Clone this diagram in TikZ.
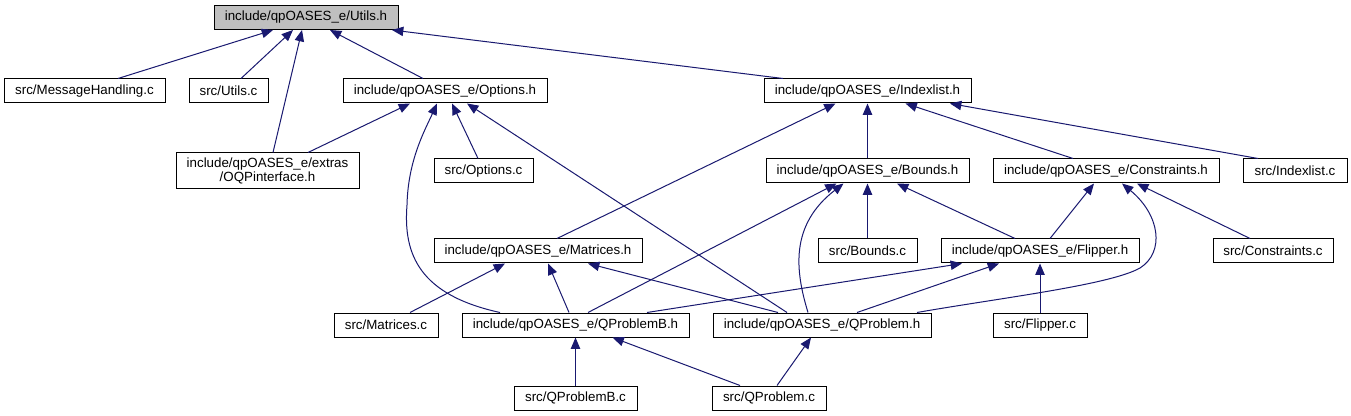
\documentclass[tikz,border=0pt]{standalone}
\usepackage{fontspec}
\setmainfont{Liberation Sans}
\usetikzlibrary{arrows.meta,calc}
\definecolor{edgeblue}{HTML}{191970}
\definecolor{hdrgray}{HTML}{BFBFBF}
\tikzset{
  nd/.style={draw=black, line width=0.75pt, fill=white, rectangle, inner sep=0pt,
    minimum height=18pt, font=\fontsize{10}{10.5}\selectfont, align=center},
  bw/.style={minimum width=#1*0.75pt},
  bh/.style={minimum height=#1*0.75pt},
  dep/.style={draw=edgeblue, line width=0.75pt,
    -{Triangle[length=8.5pt,width=7pt]}, fill=none}
}
\begin{document}
\begin{tikzpicture}[x=0.75pt,y=-0.75pt]
\useasboundingbox[fill=white] (0,0) rectangle (1351,416);
% row 1
\node[nd, bw=184, fill=hdrgray] (utils) at (306,17.5) {include/qpOASES\_e/Utils.h};
% row 2
\node[nd, bw=161] (msg) at (84.5,91) {src/MessageHandling.c};
\node[nd, bw=79] (utilsc) at (228.5,91) {src/Utils.c};
\node[nd, bw=204] (options) at (445,91) {include/qpOASES\_e/Options.h};
\node[nd, bw=207] (indexlist) at (867.5,91) {include/qpOASES\_e/Indexlist.h};
% row 3
\node[nd, bw=183, bh=36] (oqp) at (267.5,171) {include/qpOASES\_e/extras\\/OQPinterface.h};
\node[nd, bw=99] (optionsc) at (483.5,171) {src/Options.c};
\node[nd, bw=203] (bounds) at (867.5,171) {include/qpOASES\_e/Bounds.h};
\node[nd, bw=226] (constraints) at (1106,171) {include/qpOASES\_e/Constraints.h};
\node[nd, bw=104] (indexlistc) at (1295,171) {src/Indexlist.c};
% row 4
\node[nd, bw=208] (matrices) at (538,251) {include/qpOASES\_e/Matrices.h};
\node[nd, bw=99] (boundsc) at (867.5,251) {src/Bounds.c};
\node[nd, bw=198] (flipper) at (1040,251) {include/qpOASES\_e/Flipper.h};
\node[nd, bw=120] (constraintsc) at (1273,251) {src/Constraints.c};
% row 5
\node[nd, bw=104] (matricesc) at (386,325) {src/Matrices.c};
\node[nd, bw=227] (qproblemb) at (575.5,325) {include/qpOASES\_e/QProblemB.h};
\node[nd, bw=218] (qproblem) at (822,325) {include/qpOASES\_e/QProblem.h};
\node[nd, bw=94] (flipperc) at (1040,325) {src/Flipper.c};
% row 6
\node[nd, bw=123] (qproblembc) at (575.5,398) {src/QProblemB.c};
\node[nd, bw=114] (qproblemc) at (769,398) {src/QProblem.c};

% edges
\draw[dep] ($(msg.north)+(33.5,0)$) -- ($(utils.south)+(-33,0)$);
\draw[dep] ($(utilsc.north)+(12.5,0)$) -- ($(utils.south)+(-13,0)$);
\draw[dep] ($(oqp.north)+(5.5,0)$) -- ($(utils.south)+(-4,0)$);
\draw[dep] ($(options.north)+(-22,0)$) -- ($(utils.south)+(24,0)$);
\draw[dep] ($(indexlist.north)+(-84.5,0)$) -- ($(utils.south)+(86,0)$);
\draw[dep] ($(oqp.north)+(40.5,0)$) -- ($(options.south)+(-35,0)$);
\draw[dep] ($(optionsc.north)+(-5.5,0)$) -- ($(options.south)+(7,0)$);
\draw[dep] ($(qproblemb.north)+(-75.5,0)$) .. controls (420,295) and (403,255) .. (407,205)
   .. controls (408,160) and (425,130) .. ($(options.south)+(-8,0)$);
\draw[dep] ($(qproblem.north)+(-35,0)$) -- ($(options.south)+(22,0)$);
\draw[dep] ($(matrices.north)+(19,0)$) -- ($(indexlist.south)+(-32,0)$);
\draw[dep] (bounds.north) -- (indexlist.south);
\draw[dep] ($(constraints.north)+(-33,0)$) -- ($(indexlist.south)+(38,0)$);
\draw[dep] ($(indexlistc.north)+(-37,0)$) -- ($(indexlist.south)+(82.5,0)$);
\draw[dep] ($(qproblemb.north)+(12.5,0)$) -- ($(bounds.south)+(-31,0)$);
\draw[dep] ($(qproblem.north)+(-14,0)$) .. controls (795,270) and (790,225) .. ($(bounds.south)+(-24,0)$);
\draw[dep] (boundsc.north) -- (bounds.south);
\draw[dep] ($(flipper.north)+(-25,0)$) -- ($(bounds.south)+(29.5,0)$);
\draw[dep] ($(flipper.north)+(10,0)$) -- ($(constraints.south)+(-12,0)$);
\draw[dep] ($(qproblem.north)+(95,0)$) .. controls (1000,298) and (1110,285) .. (1140,268)
   .. controls (1165,252) and (1160,215) .. ($(constraints.south)+(16,0)$);
\draw[dep] ($(constraintsc.north)+(-23,0)$) -- ($(constraints.south)+(31,0)$);
\draw[dep] ($(matricesc.north)+(24,0)$) -- ($(matrices.south)+(-33,0)$);
\draw[dep] ($(qproblemb.north)+(-6.5,0)$) -- ($(matrices.south)+(10,0)$);
\draw[dep] ($(qproblem.north)+(-44,0)$) -- ($(matrices.south)+(50,0)$);
\draw[dep] ($(qproblemb.north)+(71.5,0)$) -- ($(flipper.south)+(-78,0)$);
\draw[dep] ($(qproblem.north)+(35,0)$) -- ($(flipper.south)+(-41,0)$);
\draw[dep] (flipperc.north) -- (flipper.south);
\draw[dep] (qproblembc.north) -- (qproblemb.south);
\draw[dep] ($(qproblemc.north)+(-29,0)$) -- ($(qproblemb.south)+(37,0)$);
\draw[dep] ($(qproblemc.north)+(8,0)$) -- ($(qproblem.south)+(-11,0)$);
\end{tikzpicture}
\end{document}
